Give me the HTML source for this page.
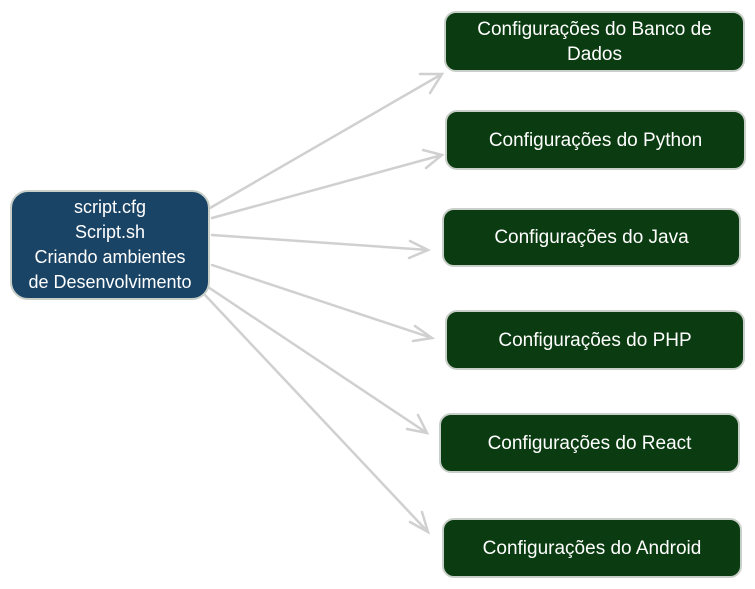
<!DOCTYPE html>
<html><head><meta charset="utf-8"><style>
body{margin:0;width:755px;height:589px;background:#fff;overflow:hidden;position:relative;font-family:"Liberation Sans",sans-serif;}
.b{position:absolute;box-sizing:border-box;border:2px solid #c8cfc8;border-radius:12px;color:#fff;display:flex;align-items:center;justify-content:center;text-align:center;font-size:19px;line-height:25px;white-space:nowrap;}
.g{background:#0b3b10;}
svg{position:absolute;left:0;top:0;}
</style></head><body>
<svg width="755" height="589" fill="none" stroke="#d0d0d0" stroke-width="2.5" stroke-linecap="round">
<path d="M210 208 L442 74 M420 74 L442 74 L430 93"/>
<path d="M212 218 L442 155 M423 150 L442 155 L426 168"/>
<path d="M212 235 L428 250 M410 241 L428 250 L409 258"/>
<path d="M212 265 L432 338 M415 326 L432 338 L413 341"/>
<path d="M205 285 L427 433 M418 415 L427 433 L407 429"/>
<path d="M205 295 L428 532 M422 512 L428 532 L410 522"/>
</svg>
<div class="b" style="left:10px;top:190px;width:200px;height:110px;background:#1a4466;border-radius:18px;font-size:18px;">script.cfg<br>Script.sh<br>Criando ambientes<br>de Desenvolvimento</div>
<div class="b g" style="left:444px;top:11px;width:301px;height:61px;">Configurações do Banco de<br>Dados</div>
<div class="b g" style="left:445px;top:110px;width:301px;height:60px;">Configurações do Python</div>
<div class="b g" style="left:442px;top:208px;width:299px;height:59px;">Configurações do Java</div>
<div class="b g" style="left:445px;top:310px;width:300px;height:60px;">Configurações do PHP</div>
<div class="b g" style="left:439px;top:413px;width:301px;height:60px;">Configurações do React</div>
<div class="b g" style="left:442px;top:518px;width:300px;height:60px;">Configurações do Android</div>
</body></html>
